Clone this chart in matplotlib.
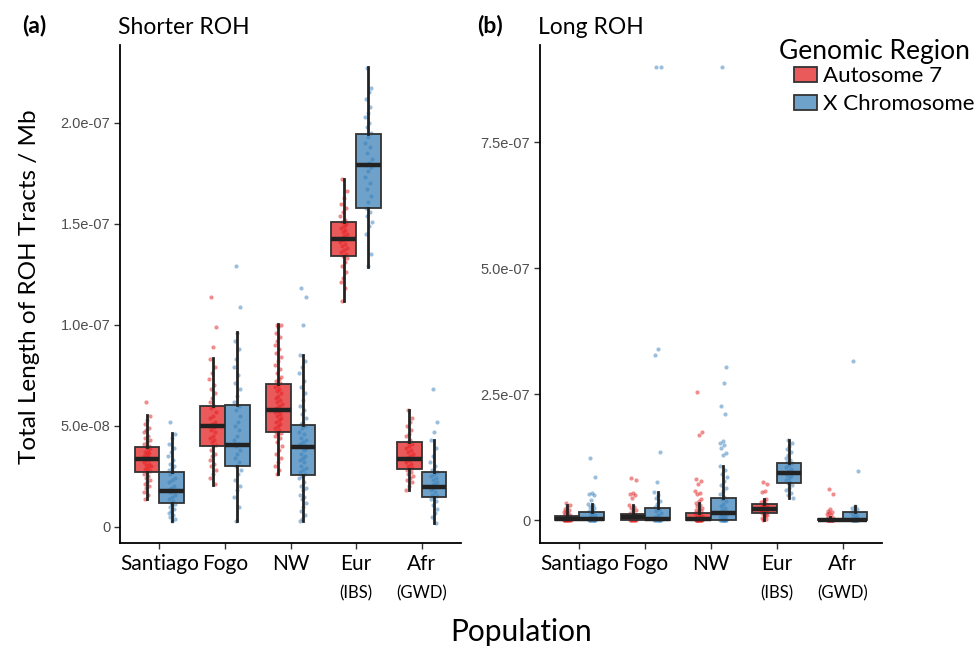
import numpy as np
import matplotlib
matplotlib.use("Agg")
import matplotlib.pyplot as plt
from matplotlib.patches import Patch
from matplotlib.transforms import blended_transform_factory

# ---------------- data (values in units of 1e-8) ----------------
populations = ["Santiago", "Fogo", "NW", "Eur", "Afr"]
pop_sub = ["", "", "", "(IBS)", "(GWD)"]
regions = ["Autosome 7", "X Chromosome"]

# Panel (a) Shorter ROH - box statistics
a_auto_q1 = [2.72, 4.00, 4.67, 13.42, 2.84]
a_auto_med = [3.38, 4.97, 5.76, 14.27, 3.38]
a_auto_q3 = [3.96, 5.96, 7.05, 15.11, 4.22]
a_auto_lo = [1.39, 2.06, 2.61, 11.17, 1.82]
a_auto_hi = [5.54, 8.35, 10.03, 17.24, 5.78]
a_x_q1 = [1.16, 3.02, 2.56, 15.76, 1.50]
a_x_med = [1.75, 4.06, 3.96, 17.89, 1.98]
a_x_q3 = [2.71, 6.04, 5.03, 19.42, 2.69]
a_x_lo = [0.30, 0.30, 0.30, 12.87, 0.21]
a_x_hi = [4.65, 9.65, 8.50, 22.74, 4.29]

# Panel (b) Long ROH - box statistics
b_auto_q1 = [0.0, 0.1, 0.0, 1.5, 0.0]
b_auto_med = [0.35, 0.6, 0.2, 2.3, 0.0]
b_auto_q3 = [0.85, 1.2, 1.45, 3.2, 0.3]
b_auto_lo = [0.0, 0.0, 0.0, 0.0, 0.0]
b_auto_hi = [3.0, 3.0, 3.4, 4.3, 0.7]
b_x_q1 = [0.0, 0.0, 0.0, 7.4, 0.0]
b_x_med = [0.26, 0.2, 1.45, 9.4, 0.1]
b_x_q3 = [1.65, 2.45, 4.5, 11.4, 1.6]
b_x_lo = [0.0, 0.0, 0.0, 4.5, 0.0]
b_x_hi = [3.3, 5.6, 10.8, 16.0, 2.8]

# Panel (a) individual points
a_santiago_auto = [6.2, 5.5, 5.3, 5.1, 4.9, 4.8, 4.7, 4.5, 4.4, 4.3, 4.2, 4.1, 4.0, 3.95, 3.9, 3.8, 3.7, 3.65, 3.6, 3.5, 3.45, 3.4, 3.35, 3.3, 3.2, 3.1, 3.05, 3.0, 2.9, 2.85, 2.75, 2.7, 2.6, 2.5, 2.4, 2.3, 2.2, 2.1, 2.0, 1.9, 1.7, 1.6, 1.4]
a_santiago_x = [5.2, 4.6, 4.4, 4.1, 3.9, 3.7, 3.5, 3.3, 3.1, 3.0, 2.9, 2.8, 2.7, 2.6, 2.4, 2.3, 2.2, 2.0, 1.9, 1.8, 1.75, 1.7, 1.6, 1.5, 1.4, 1.3, 1.2, 1.15, 1.1, 1.0, 0.9, 0.8, 0.7, 0.6, 0.5, 0.4, 0.3]
a_fogo_auto = [11.4, 9.9, 8.9, 8.3, 7.9, 7.6, 7.3, 7.0, 6.8, 6.6, 6.4, 6.2, 6.0, 5.9, 5.7, 5.5, 5.4, 5.2, 5.1, 5.0, 4.95, 4.8, 4.7, 4.5, 4.4, 4.3, 4.2, 4.05, 4.0, 3.8, 3.6, 3.5, 3.3, 3.1, 3.0, 2.8, 2.6, 2.4, 2.1]
a_fogo_x = [12.9, 10.9, 9.6, 9.2, 8.8, 8.3, 7.9, 7.5, 7.1, 6.8, 6.5, 6.2, 6.0, 5.8, 5.5, 5.2, 5.0, 4.8, 4.5, 4.3, 4.1, 4.0, 3.8, 3.6, 3.4, 3.2, 3.0, 2.8, 2.6, 2.3, 2.0, 1.8, 1.5, 1.0, 0.3]
a_nw_auto = [10.0, 10.0, 9.9, 9.6, 9.4, 9.2, 9.0, 8.8, 8.6, 8.4, 8.2, 8.0, 7.8, 7.6, 7.4, 7.3, 7.2, 7.1, 7.0, 6.9, 6.8, 6.7, 6.6, 6.5, 6.4, 6.3, 6.2, 6.1, 6.0, 5.9, 5.8, 5.75, 5.7, 5.6, 5.5, 5.4, 5.3, 5.2, 5.1, 5.0, 4.9, 4.8, 4.7, 4.65, 4.6, 4.5, 4.4, 4.2, 4.0, 3.8, 3.6, 3.4, 3.2, 3.0, 2.8, 2.6]
a_nw_x = [11.8, 11.4, 10.0, 8.5, 8.2, 7.9, 7.6, 7.2, 6.9, 6.6, 6.3, 6.0, 5.8, 5.6, 5.4, 5.2, 5.1, 5.0, 4.9, 4.7, 4.6, 4.4, 4.3, 4.2, 4.1, 4.0, 3.95, 3.9, 3.8, 3.6, 3.5, 3.4, 3.3, 3.2, 3.0, 2.9, 2.8, 2.7, 2.6, 2.5, 2.4, 2.2, 2.0, 1.9, 1.8, 1.6, 1.5, 1.4, 1.2, 1.0, 0.8, 0.6, 0.4, 0.3]
a_eur_auto = [17.2, 16.6, 16.3, 16.0, 15.8, 15.6, 15.4, 15.2, 15.1, 15.0, 14.9, 14.8, 14.7, 14.6, 14.5, 14.4, 14.3, 14.25, 14.2, 14.1, 14.0, 13.9, 13.8, 13.7, 13.6, 13.5, 13.4, 13.3, 13.1, 12.9, 12.6, 12.3, 12.1, 11.8, 11.2]
a_eur_x = [22.7, 21.7, 21.5, 21.2, 20.8, 20.5, 20.3, 20.0, 19.8, 19.5, 19.3, 19.0, 18.8, 18.5, 18.2, 18.0, 17.9, 17.8, 17.6, 17.3, 17.0, 16.7, 16.4, 16.1, 15.8, 15.6, 15.4, 15.1, 14.9, 14.5, 13.5, 12.9]
a_afr_auto = [5.8, 5.4, 5.2, 5.0, 4.8, 4.6, 4.5, 4.3, 4.2, 4.1, 4.0, 3.9, 3.8, 3.7, 3.6, 3.5, 3.4, 3.35, 3.3, 3.2, 3.1, 3.0, 2.9, 2.85, 2.8, 2.7, 2.6, 2.5, 2.4, 2.3, 2.2, 2.0, 1.8]
a_afr_x = [6.8, 5.2, 4.7, 4.3, 3.9, 3.5, 3.2, 3.0, 2.8, 2.7, 2.6, 2.5, 2.4, 2.3, 2.2, 2.1, 2.0, 1.95, 1.9, 1.8, 1.7, 1.6, 1.55, 1.5, 1.4, 1.3, 1.1, 0.9, 0.7, 0.5, 0.2]

# Panel (b) individual points
b_santiago_auto = [3.4, 3.0, 2.6, 2.3, 2.0, 1.8, 1.6, 1.4, 1.2, 1.0, 0.9, 0.8, 0.7, 0.6, 0.5, 0.4, 0.35, 0.3, 0.2, 0.1, 0, 0, 0, 0, 0, 0, 0, 0, 0, 0]
b_santiago_x = [12.4, 8.6, 5.5, 5.3, 5.0, 4.0, 3.3, 3.0, 2.7, 2.4, 2.1, 1.8, 1.6, 1.4, 1.1, 0.9, 0.6, 0.4, 0.3, 0.2, 0.1, 0, 0, 0, 0, 0, 0, 0, 0, 0]
b_fogo_auto = [8.3, 8.0, 5.5, 5.3, 5.1, 4.5, 3.0, 2.7, 2.4, 2.1, 1.8, 1.5, 1.3, 1.1, 1.0, 0.9, 0.8, 0.7, 0.6, 0.5, 0.4, 0.3, 0.2, 0.1, 0, 0, 0, 0, 0, 0]
b_fogo_x = [90, 90, 34.0, 32.7, 13.5, 7.6, 5.6, 5.0, 4.4, 3.8, 3.2, 2.6, 2.2, 1.8, 1.4, 1.0, 0.6, 0.3, 0.2, 0.1, 0, 0, 0, 0, 0, 0, 0, 0]
b_nw_auto = [25.5, 17.5, 16.9, 8.2, 7.8, 7.3, 5.8, 5.5, 5.2, 4.2, 3.9, 3.4, 3.1, 2.8, 2.5, 2.2, 2.0, 1.8, 1.6, 1.4, 1.2, 1.0, 0.8, 0.6, 0.5, 0.4, 0.3, 0.2, 0.1, 0, 0, 0, 0, 0, 0, 0, 0, 0, 0, 0]
b_nw_x = [90, 30.5, 27.3, 22.6, 21.0, 15.7, 15.3, 15.0, 14.4, 13.4, 13.0, 10.8, 10.0, 9.2, 8.5, 7.8, 7.0, 6.4, 5.8, 5.2, 4.6, 4.2, 3.8, 3.3, 2.8, 2.4, 2.0, 1.7, 1.45, 1.2, 1.0, 0.8, 0.6, 0.4, 0.2, 0, 0, 0, 0, 0, 0, 0, 0, 0, 0]
b_eur_auto = [7.7, 7.3, 5.9, 5.6, 4.3, 4.0, 3.7, 3.4, 3.2, 3.0, 2.8, 2.6, 2.5, 2.4, 2.3, 2.2, 2.1, 2.0, 1.9, 1.7, 1.5, 1.3, 1.1, 0.8, 0.5, 0.2, 0]
b_eur_x = [16.0, 15.4, 14.8, 14.2, 13.6, 13.0, 12.4, 12.0, 11.6, 11.3, 11.0, 10.6, 10.2, 9.8, 9.5, 9.3, 9.0, 8.7, 8.4, 8.0, 7.7, 7.4, 7.0, 6.5, 6.0, 5.5, 5.0, 4.5]
b_afr_auto = [6.3, 5.3, 2.2, 1.9, 1.7, 1.5, 1.3, 1.0, 0.7, 0.5, 0.3, 0.2, 0.1, 0, 0, 0, 0, 0, 0, 0, 0, 0, 0, 0, 0]
b_afr_x = [31.7, 9.8, 2.8, 2.5, 2.2, 1.9, 1.6, 1.3, 1.0, 0.7, 0.5, 0.3, 0.1, 0, 0, 0, 0, 0, 0, 0, 0, 0]

a_yticks = [0, 5.0, 10.0, 15.0, 20.0]
a_yticklabels = ["0", "5.0e-08", "1.0e-07", "1.5e-07", "2.0e-07"]
b_yticks = [0, 25.0, 50.0, 75.0]
b_yticklabels = ["0", "2.5e-07", "5.0e-07", "7.5e-07"]

# ---------------- style ----------------
RED = "#E41A1C"
BLUE = "#377EB8"
LABEL_FONT = ["Lato", "DejaVu Sans"]
TICK_FONT = ["Liberation Sans", "DejaVu Sans"]

fig = plt.figure(figsize=(9.76, 6.5), dpi=100)
axA = fig.add_axes([120 / 976, 1 - 543 / 650, (461 - 120) / 976, (543 - 45) / 650])
axB = fig.add_axes([540 / 976, 1 - 543 / 650, (882 - 540) / 976, (543 - 45) / 650])

SC = 1e-8


def make_stats(q1, med, q3, lo, hi):
    return [dict(q1=a * SC, med=m * SC, q3=b * SC, whislo=l * SC, whishi=h * SC,
                 mean=m * SC, fliers=[]) for a, m, b, l, h in zip(q1, med, q3, lo, hi)]


def draw_panel(ax, auto_stats, x_stats, auto_pts, x_pts):
    pos = np.arange(1, len(populations) + 1)
    off = 0.1875
    for pts_list, sgn, col in ((auto_pts, -1, RED), (x_pts, 1, BLUE)):
        for i, vals in enumerate(pts_list):
            v = np.array(vals) * SC
            n = len(v)
            jit = ((np.arange(n) * 0.618034 + 0.3) % 1.0 - 0.5) * 0.11
            ax.scatter(pos[i] + sgn * off + jit, v, s=9, color=col, alpha=0.5,
                       linewidths=0, zorder=1)
    for stats, sgn, col in ((auto_stats, -1, RED), (x_stats, 1, BLUE)):
        rgba = matplotlib.colors.to_rgba(col, 0.72)
        ax.bxp(stats, positions=pos + sgn * off, widths=0.375, showfliers=False,
               showcaps=False, patch_artist=True, manage_ticks=False,
               boxprops=dict(facecolor=rgba, edgecolor="#333333", linewidth=1.3),
               whiskerprops=dict(color="#222222", linewidth=2.0),
               medianprops=dict(color="#222222", linewidth=3.2, solid_capstyle="butt"),
               zorder=3)
    ax.set_xlim(0.4, 5.6)
    ax.set_xticks(pos)
    ax.set_xticklabels(populations, fontsize=15, family=LABEL_FONT, color="black")
    trans = blended_transform_factory(ax.transData, fig.transFigure)
    for i, s in enumerate(pop_sub):
        if s:
            ax.text(pos[i], 1 - 593 / 650, s, transform=trans, ha="center", va="center",
                    fontsize=12, family=LABEL_FONT, color="black")
    for sp in ("top", "right"):
        ax.spines[sp].set_visible(False)
    for sp in ("left", "bottom"):
        ax.spines[sp].set_linewidth(1.3)
        ax.spines[sp].set_color("black")
    ax.tick_params(axis="both", length=4, width=1.0, color="#333333")
    ax.tick_params(axis="y", labelsize=10.5, labelcolor="#4D4D4D", pad=3)
    ax.tick_params(axis="x", pad=4)


draw_panel(axA,
           make_stats(a_auto_q1, a_auto_med, a_auto_q3, a_auto_lo, a_auto_hi),
           make_stats(a_x_q1, a_x_med, a_x_q3, a_x_lo, a_x_hi),
           [a_santiago_auto, a_fogo_auto, a_nw_auto, a_eur_auto, a_afr_auto],
           [a_santiago_x, a_fogo_x, a_nw_x, a_eur_x, a_afr_x])
draw_panel(axB,
           make_stats(b_auto_q1, b_auto_med, b_auto_q3, b_auto_lo, b_auto_hi),
           make_stats(b_x_q1, b_x_med, b_x_q3, b_x_lo, b_x_hi),
           [b_santiago_auto, b_fogo_auto, b_nw_auto, b_eur_auto, b_afr_auto],
           [b_santiago_x, b_fogo_x, b_nw_x, b_eur_x, b_afr_x])

axA.set_ylim(-0.8e-8, 23.85e-8)
axA.set_yticks([t * SC for t in a_yticks])
axA.set_yticklabels(a_yticklabels, family=TICK_FONT)
axB.set_ylim(-4.5e-8, 94.3e-8)
axB.set_yticks([t * SC for t in b_yticks])
axB.set_yticklabels(b_yticklabels, family=TICK_FONT)

# titles and labels
fig.text(22 / 976, 1 - 26 / 650, "(a)", fontsize=16.5, fontweight="bold", family=LABEL_FONT, va="center")
fig.text(118 / 976, 1 - 27 / 650, "Shorter ROH", fontsize=16.5, family=LABEL_FONT, va="center")
fig.text(477 / 976, 1 - 26 / 650, "(b)", fontsize=16.5, fontweight="bold", family=LABEL_FONT, va="center")
fig.text(538 / 976, 1 - 27 / 650, "Long ROH", fontsize=16.5, family=LABEL_FONT, va="center")
fig.text(30 / 976, 1 - 287 / 650, "Total Length of ROH Tracts / Mb", rotation=90,
         fontsize=17.5, family=LABEL_FONT, ha="center", va="center")
fig.text(521 / 976, 1 - 632 / 650, "Population", fontsize=21.5, family=LABEL_FONT,
         ha="center", va="center")

# legend
fig.text(779 / 976, 1 - 51 / 650, "Genomic Region", fontsize=19, family=LABEL_FONT, va="center")
handles = [Patch(facecolor=matplotlib.colors.to_rgba(RED, 0.72), edgecolor="#333333", linewidth=1.3),
           Patch(facecolor=matplotlib.colors.to_rgba(BLUE, 0.72), edgecolor="#333333", linewidth=1.3)]
fig.legend(handles, regions, loc="upper left", bbox_to_anchor=(790 / 976, 1 - 62 / 650),
           frameon=False, prop=dict(family=LABEL_FONT, size=16), handlelength=1.0,
           handleheight=0.7, handletextpad=0.3, labelspacing=0.35, borderpad=0.2,
           borderaxespad=0)

fig.savefig("out.png", dpi=100)
